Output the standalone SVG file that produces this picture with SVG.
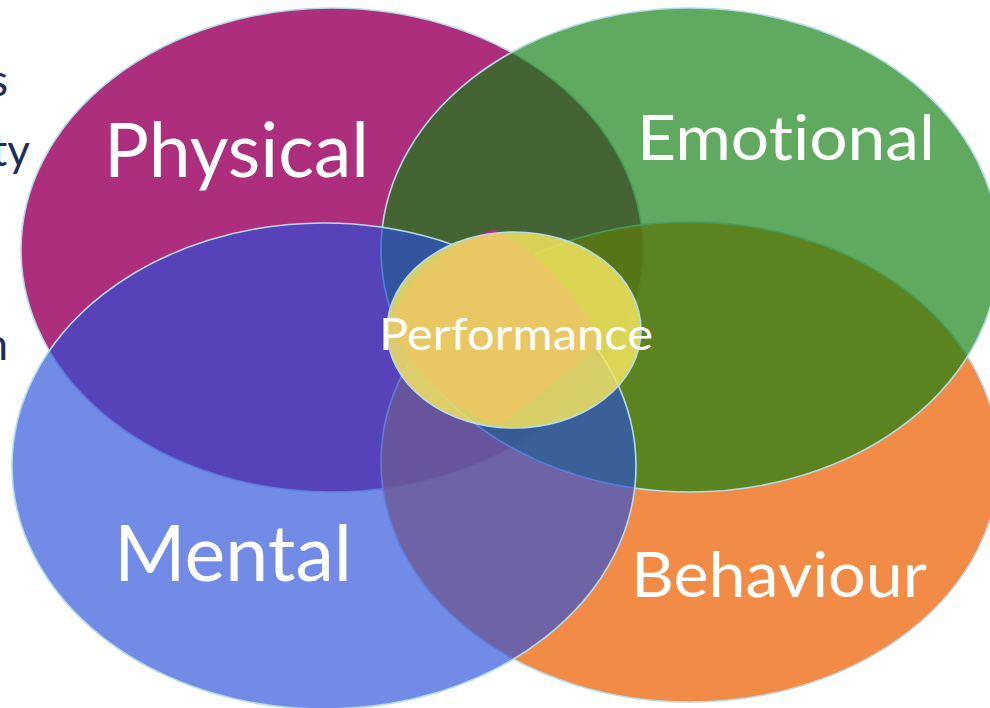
<svg xmlns="http://www.w3.org/2000/svg" xmlns:xlink="http://www.w3.org/1999/xlink" width="990" height="708" viewBox="0 0 990 708">
  <style>
    .ring { stroke: #B4DCE8; stroke-width: 1.6; }
    .label { font-family: Lato, "Open Sans", "Liberation Sans", sans-serif; fill: #FFFFFF; font-variant-ligatures: none; font-feature-settings: "liga" 0; }
    .side { font-family: Lato, "Open Sans", "Liberation Sans", sans-serif; fill: #1F2D5E; font-size: 44px; }
  </style>
  <rect width="990" height="708" fill="#FFFFFF"/>

  <!-- clipped words of the slide text at the left margin -->
  <g id="margin-text">
    <text class="side" x="8" y="96" text-anchor="end">s</text>
    <text class="side" x="30" y="166" text-anchor="end">ty</text>
    <text class="side" x="8" y="360" text-anchor="end">n</text>
  </g>

  <!-- four overlapping areas, back to front -->
  <g id="physical">
    <ellipse class="ring" cx="332" cy="250" rx="311" ry="242" fill="#AE2E7E"/>
    <text class="label" x="104" y="177" font-size="76" textLength="265" lengthAdjust="spacingAndGlyphs">Physical</text>
  </g>

  <g id="behaviour">
    <ellipse class="ring" cx="690" cy="462" rx="309" ry="240" fill="rgb(239,110,22)" fill-opacity="0.8"/>
    <text class="label" x="631" y="597" font-size="62" textLength="296" lengthAdjust="spacingAndGlyphs">Behaviour</text>
  </g>

  <g id="emotional">
    <ellipse class="ring" cx="690" cy="250" rx="309" ry="242" fill="rgb(15,128,14)" fill-opacity="0.667"/>
    <text class="label" x="637" y="160" font-size="62" textLength="298" lengthAdjust="spacingAndGlyphs">Emotional</text>
  </g>

  <g id="mental">
    <ellipse class="ring" cx="324" cy="466" rx="312" ry="243" fill="rgb(39,78,217)" fill-opacity="0.654"/>
    <text class="label" x="114" y="581" font-size="78" textLength="238" lengthAdjust="spacingAndGlyphs">Mental</text>
  </g>

  <!-- centre: rhombus under the yellow ellipse -->
  <g id="performance">
    <path d="M494,229 Q560,262 600,342 Q560,380 500,426 Q430,405 389,322 Q420,252 494,229 Z" fill="#AE2E7E"/>
    <ellipse class="ring" cx="514" cy="330" rx="127" ry="98" fill="rgb(244,230,95)" fill-opacity="0.84"/>
    <text class="label" x="379" y="350" font-size="45" textLength="274" lengthAdjust="spacingAndGlyphs">Performance</text>
  </g>
</svg>
